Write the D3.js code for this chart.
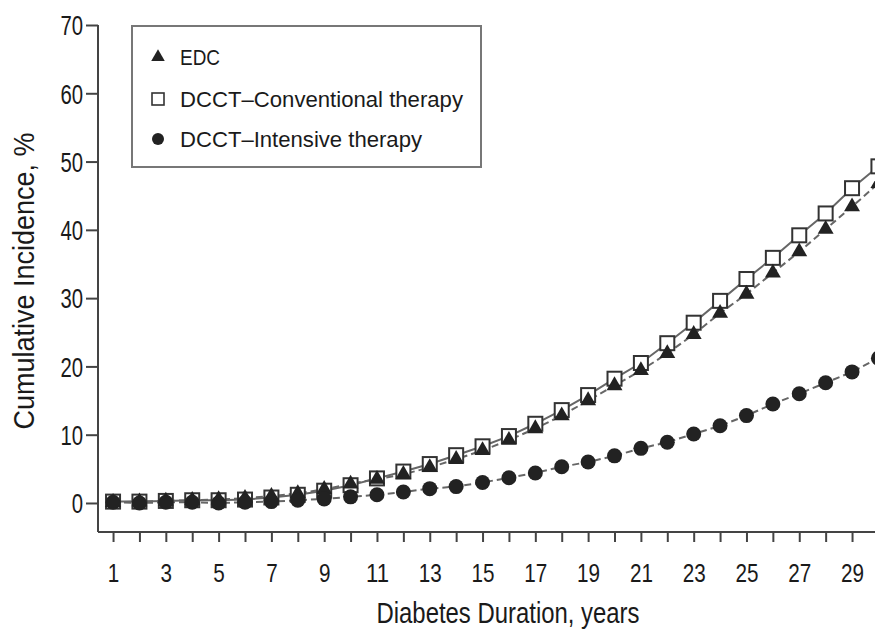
<!DOCTYPE html>
<html>
  <head>
    <meta charset="utf-8">
    <title>Cumulative Incidence</title>
    <script src="https://d3js.org/d3.v7.min.js"></script>
    <style>
    html, body {margin: 0; padding: 0; background: #fff;}
    svg {display: block;}
    text {font-family: "Liberation Sans", Arial, sans-serif; fill: #1a1a1a;}
    .axis path, .axis line {stroke: #444; stroke-width: 2px;}
    </style>
  </head>
  <body>
    <script>

    var years = [1,2,3,4,5,6,7,8,9,10,11,12,13,14,15,16,17,18,19,20,21,22,23,24,25,26,27,28,29,30];

    var edc = [0.1,0.2,0.3,0.4,0.5,0.7,1.0,1.4,2.0,2.8,3.5,4.2,5.2,6.4,7.7,9.2,10.9,12.8,15.0,17.2,
               19.4,21.9,24.7,27.8,30.6,33.7,36.8,40.1,43.4,46.8];
    var conventional = [0.2,0.2,0.3,0.4,0.4,0.5,0.8,1.2,1.8,2.6,3.6,4.6,5.7,7.0,8.3,9.8,11.6,13.6,15.8,18.2,
               20.5,23.4,26.4,29.6,32.8,35.9,39.2,42.4,46.1,49.3];
    var intensive = [0.1,0.0,0.1,0.1,0.0,0.1,0.2,0.4,0.6,0.9,1.2,1.6,2.1,2.4,3.0,3.7,4.4,5.3,6.0,6.9,
               8.0,8.9,10.1,11.3,12.8,14.5,16.0,17.6,19.2,21.2];

    var yTicks = [0,10,20,30,40,50,60,70];
    var legendLabels = ["EDC", "DCCT\u2013Conventional therapy", "DCCT\u2013Intensive therapy"];

    var width = 875, height = 632;

    var x = d3.scaleLinear().domain([0.43, 29.87]).range([98, 875]);
    var y = d3.scaleLinear().domain([-4.25, 70]).range([532, 25]);

    var svg = d3.select("body").append("svg")
        .attr("width", width)
        .attr("height", height);

    // squeeze text to a width, like the condensed face of the original
    function fit(sel, w) {
      sel.attr("textLength", w).attr("lengthAdjust", "spacingAndGlyphs");
    }

    // axes
    var xAxis = d3.axisBottom(x)
        .tickValues(years)
        .tickSize(10)
        .tickSizeOuter(0)
        .tickFormat(function(d){ return d % 2 === 1 ? d : ""; });

    var gx = svg.append("g").attr("class", "axis")
        .attr("transform", "translate(0,532)")
        .call(xAxis);
    gx.select(".domain").attr("d", "M98,0H875");
    gx.selectAll("text")
        .attr("y", 50).attr("dy", null)
        .style("font-size", "26px")
        .each(function(d){
          var t = d3.select(this);
          if (t.text() !== "") fit(t, String(d).length * 11.5);
        });

    var yAxis = d3.axisLeft(y)
        .tickValues(yTicks)
        .tickSize(12)
        .tickSizeOuter(0);

    var gy = svg.append("g").attr("class", "axis")
        .attr("transform", "translate(98,0)")
        .call(yAxis);
    gy.select(".domain").attr("d", "M0,25V532");
    gy.selectAll("text")
        .attr("x", -15).attr("dy", "0.36em")
        .style("font-size", "27px")
        .each(function(d){ fit(d3.select(this), String(d).length * 11.3); });

    // axis titles
    svg.append("text")
        .attr("x", 508).attr("y", 623)
        .attr("text-anchor", "middle")
        .style("font-size", "29px")
        .text("Diabetes Duration, years")
        .call(fit, 263);

    svg.append("text")
        .attr("transform", "translate(34,281) rotate(-90)")
        .attr("text-anchor", "middle")
        .style("font-size", "29px")
        .text("Cumulative Incidence, %")
        .call(fit, 297);

    // series
    function pts(vals) {
      return years.map(function(d, i){ return [d, vals[i]]; });
    }

    var line = d3.line()
        .x(function(d){ return x(d[0]); })
        .y(function(d){ return y(d[1]); });

    svg.append("path")
        .datum(pts(conventional))
        .attr("d", line)
        .attr("fill", "none")
        .attr("stroke", "#666")
        .attr("stroke-width", 2);

    svg.append("path")
        .datum(pts(edc))
        .attr("d", line)
        .attr("fill", "none")
        .attr("stroke", "#666")
        .attr("stroke-width", 2)
        .attr("stroke-dasharray", "7,4");

    svg.append("path")
        .datum(pts(intensive))
        .attr("d", line)
        .attr("fill", "none")
        .attr("stroke", "#666")
        .attr("stroke-width", 2)
        .attr("stroke-dasharray", "7,4");

    svg.selectAll(".sq")
        .data(pts(conventional))
        .enter().append("rect")
        .attr("class", "sq")
        .attr("x", function(d){ return x(d[0]) - 7; })
        .attr("y", function(d){ return y(d[1]) - 7; })
        .attr("width", 14).attr("height", 14)
        .attr("fill", "#fff")
        .attr("stroke", "#333")
        .attr("stroke-width", 2);

    var tri = d3.symbol().type(d3.symbolTriangle).size(110);

    svg.selectAll(".tri")
        .data(pts(edc))
        .enter().append("path")
        .attr("class", "tri")
        .attr("d", tri)
        .attr("transform", function(d){ return "translate(" + x(d[0]) + "," + y(d[1]) + ")"; })
        .attr("fill", "#222");

    svg.selectAll(".dot")
        .data(pts(intensive))
        .enter().append("circle")
        .attr("class", "dot")
        .attr("cx", function(d){ return x(d[0]); })
        .attr("cy", function(d){ return y(d[1]); })
        .attr("r", 7.5)
        .attr("fill", "#222");

    // legend
    var legend = svg.append("g");
    legend.append("rect")
        .attr("x", 132).attr("y", 26)
        .attr("width", 349).attr("height", 141)
        .attr("fill", "#fff")
        .attr("stroke", "#777")
        .attr("stroke-width", 2);

    var rowY = [57, 99, 139];
    var textW = [40, 283, 242];

    legend.append("path")
        .attr("d", d3.symbol().type(d3.symbolTriangle).size(80))
        .attr("transform", "translate(158," + rowY[0] + ")")
        .attr("fill", "#222");
    legend.append("rect")
        .attr("x", 152).attr("y", rowY[1] - 6)
        .attr("width", 12).attr("height", 12)
        .attr("fill", "#fff").attr("stroke", "#333").attr("stroke-width", 1.6);
    legend.append("circle")
        .attr("cx", 158).attr("cy", rowY[2])
        .attr("r", 6).attr("fill", "#222");

    legend.selectAll(".lt")
        .data(legendLabels)
        .enter().append("text")
        .attr("class", "lt")
        .attr("x", 180)
        .attr("y", function(d, i){ return rowY[i] + 8; })
        .style("font-size", "22px")
        .text(function(d){ return d; })
        .each(function(d, i){ fit(d3.select(this), textW[i]); });

    </script>
  </body>
</html>
